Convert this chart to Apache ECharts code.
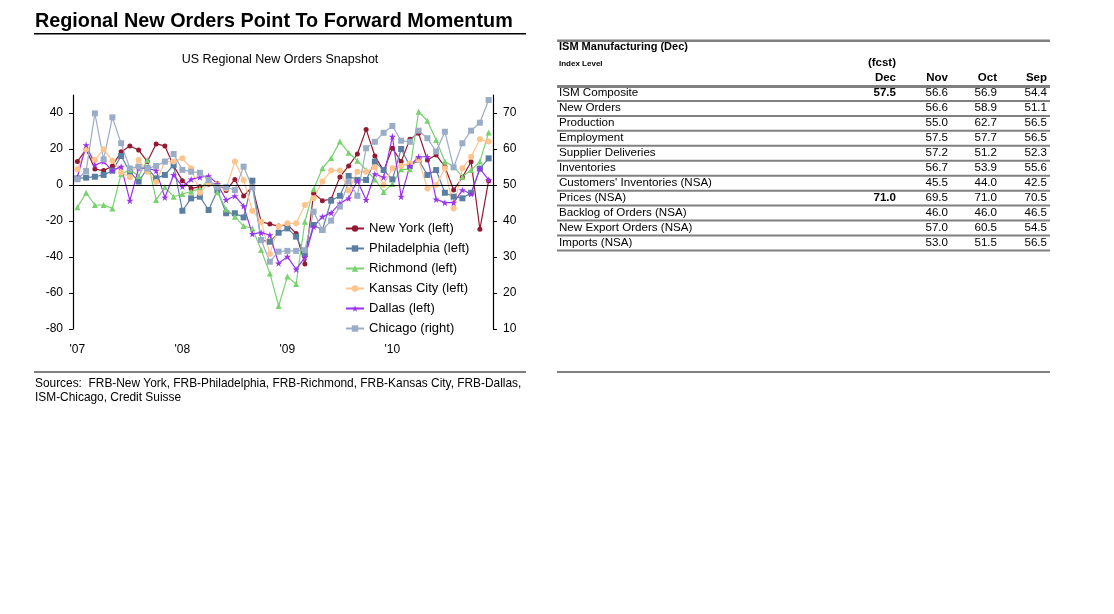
<!DOCTYPE html>
<html><head><meta charset="utf-8">
<script src="https://cdn.jsdelivr.net/npm/echarts@6/dist/echarts.min.js"></script>
<style>html,body{margin:0;padding:0;background:#fff}#c{width:1114px;height:614px}</style>
</head><body><div id="c"></div>
<script>
// ---------- DATA ----------
const categories = [
 "2007-01","2007-02","2007-03","2007-04","2007-05","2007-06","2007-07","2007-08","2007-09","2007-10","2007-11","2007-12",
 "2008-01","2008-02","2008-03","2008-04","2008-05","2008-06","2008-07","2008-08","2008-09","2008-10","2008-11","2008-12",
 "2009-01","2009-02","2009-03","2009-04","2009-05","2009-06","2009-07","2009-08","2009-09","2009-10","2009-11","2009-12",
 "2010-01","2010-02","2010-03","2010-04","2010-05","2010-06","2010-07","2010-08","2010-09","2010-10","2010-11","2010-12"];
const xTickLabels = ["'07","'08","'09","'10"];
const leftTicks = [-80,-60,-40,-20,0,20,40];
const rightTicks = [10,20,30,40,50,60,70];

const newYork = [13.0,19.8,8.9,8.0,10.6,18.5,21.7,19.4,13.0,22.8,21.7,10.6,
 2.4,-1.9,-1.0,0.4,0.9,-3.1,3.1,-6.1,-0.9,-20.4,-21.7,-22.8,
 -22.0,-26.9,-43.9,-4.6,-8.7,-7.9,4.5,10.6,17.2,30.9,16.1,8.0,
 20.4,13.0,25.4,28.7,13.9,16.7,10.2,-2.8,4.3,12.9,-24.6,2.4];
const philadelphia = [3.7,4.1,4.6,5.6,8.0,16.1,7.4,1.9,9.3,3.7,5.6,11.1,
 -14.3,-7.4,-6.5,-13.9,-3.0,-15.7,-15.7,-18.0,2.4,-30.6,-31.5,-26.5,
 -24.1,-28.7,-38.3,-22.2,-25.0,-8.7,-6.0,5.0,2.8,2.8,13.0,8.3,
 3.1,20.0,10.6,13.9,5.6,8.3,-4.3,-6.5,-7.4,-4.3,9.1,14.8];
const richmond = [-12.4,-4.3,-11.1,-11.1,-13.0,6.1,8.5,5.0,13.9,-8.3,-1.3,-6.5,
 -5.0,-3.7,-2.0,3.0,-4.0,-13.5,-17.6,-22.8,-24.1,-36.1,-49.1,-67.2,
 -50.9,-55.0,-20.4,-2.4,9.3,15.0,24.1,17.9,13.5,8.3,3.1,-3.9,
 0.6,8.7,8.7,40.7,35.7,25.0,13.0,10.2,4.6,8.3,13.0,29.1];
const kansasCity = [8.7,19.8,13.9,19.8,13.5,7.0,4.3,13.9,7.4,1.7,13.0,13.0,
 14.8,9.3,-4.3,1.0,0.4,-1.9,13.0,2.8,-14.3,-20.4,-38.3,-23.1,
 -21.3,-21.3,-11.1,-7.4,1.9,8.0,8.0,-3.1,7.4,7.4,9.8,0.0,
 9.3,10.6,12.0,13.9,-1.9,0.0,9.3,-13.0,9.3,15.7,25.4,24.1];
const dallas = [4.3,22.2,11.1,13.0,8.0,10.2,-8.7,9.3,9.3,8.0,-6.9,5.6,
 -0.9,3.1,4.3,5.0,0.6,-8.3,-6.1,-11.7,-27.2,-26.5,-27.8,-43.5,
 -39.8,-46.9,-40.2,-23.1,-17.6,-15.5,-10.2,-7.4,2.4,-8.3,6.1,4.3,
 26.9,-6.5,10.6,15.7,15.7,-8.0,-9.8,-9.8,-2.8,-5.0,9.1,2.8];
const chicago = [51.6,53.9,69.9,57.1,68.8,61.6,54.6,55.1,54.6,55.3,56.5,58.6,
 54.2,53.7,53.4,51.4,49.5,49.4,48.6,55.1,49.4,34.7,28.7,31.5,
 31.7,31.7,31.9,42.6,37.5,40.1,44.0,51.0,47.0,60.2,62.0,64.5,
 66.4,62.3,62.0,65.1,63.0,59.3,64.8,54.9,61.6,65.1,67.3,73.6];

// table
const tableRows = ["ISM Composite","New Orders","Production","Employment","Supplier Deliveries","Inventories",
 "Customers' Inventories (NSA)","Prices (NSA)","Backlog of Orders (NSA)","New Export Orders (NSA)","Imports (NSA)"];
const tableCols = ["Dec","Nov","Oct","Sep"];
const decFcst = [57.5,null,null,null,null,null,null,71.0,null,null,null];
const novVals = [56.6,56.6,55.0,57.5,57.2,56.7,45.5,69.5,46.0,57.0,53.0];
const octVals = [56.9,58.9,62.7,57.7,51.2,53.9,44.0,71.0,46.0,60.5,51.5];
const sepVals = [54.4,51.1,56.5,56.5,52.3,55.6,42.5,70.5,46.5,54.5,56.5];

// ---------- STYLE ----------
const FONT = "'Liberation Sans', Arial, sans-serif";
const starPath = 'path://M5,0 L6.2,3.8 L10,3.8 L7,6.2 L8.1,10 L5,7.6 L1.9,10 L3,6.2 L0,3.8 L3.8,3.8 Z';

function ser(name, data, color, symbol, size, yIdx, extra) {
  return Object.assign({
    name, type: 'line', data, yAxisIndex: yIdx,
    symbol, symbolSize: size, showSymbol: true, showAllSymbol: true,
    lineStyle: { color, width: 1.2 },
    itemStyle: { color, borderWidth: 0 },
    animation: false
  }, extra || {});
}

const chart = echarts.init(document.getElementById('c'), null, { renderer: 'canvas' });

const g = [];
// left panel
g.push({ type: 'text', style: { text: 'Regional New Orders Point To Forward Momentum', font: 'bold 19.8px ' + FONT, fill: '#000', x: 35, y: 22, textVerticalAlign: 'middle' } });
g.push({ type: 'rect', shape: { x: 34, y: 33, width: 492, height: 1.5 }, style: { fill: '#000' } });
g.push({ type: 'text', style: { text: 'US Regional New Orders Snapshot', font: '12.5px ' + FONT, fill: '#000', x: 280, y: 60, textAlign: 'center', textVerticalAlign: 'middle' } });
g.push({ type: 'rect', shape: { x: 34, y: 371.5, width: 492, height: 1 }, style: { fill: '#000' } });
g.push({ type: 'text', style: { text: 'Sources:  FRB-New York, FRB-Philadelphia, FRB-Richmond, FRB-Kansas City, FRB-Dallas,\nISM-Chicago, Credit Suisse', font: '11.9px ' + FONT, fill: '#000', x: 35, y: 377, lineHeight: 14 } });

// right panel table
const TX = 557, TW = 493;
g.push({ type: 'rect', shape: { x: TX, y: 39.5, width: TW, height: 2.5 }, style: { fill: '#7f7f7f' } });
g.push({ type: 'text', style: { text: 'ISM Manufacturing (Dec)', font: 'bold 11px ' + FONT, fill: '#000', x: 559, y: 47, textVerticalAlign: 'middle' } });
g.push({ type: 'text', style: { text: 'Index Level', font: 'bold 8px ' + FONT, fill: '#000', x: 559, y: 64, textVerticalAlign: 'middle' } });
const colRight = [896, 948, 997, 1047];
g.push({ type: 'text', style: { text: '(fcst)', font: 'bold 11.5px ' + FONT, fill: '#000', x: colRight[0], y: 63, textAlign: 'right', textVerticalAlign: 'middle' } });
tableCols.forEach((c, i) => g.push({ type: 'text', style: { text: c, font: 'bold 11.5px ' + FONT, fill: '#000', x: colRight[i], y: 77.5, textAlign: 'right', textVerticalAlign: 'middle' } }));
const pitch = 14.95, line0 = 85;
for (let i = 0; i <= tableRows.length; i++) {
  g.push({ type: 'rect', shape: { x: TX, y: line0 + i * pitch, width: TW, height: i === 0 ? 3 : 2 }, style: { fill: '#808080' } });
}
tableRows.forEach((r, i) => {
  const cy = line0 + 8 + i * pitch;
  g.push({ type: 'text', style: { text: r, font: '11.6px ' + FONT, fill: '#000', x: 559, y: cy, textVerticalAlign: 'middle' } });
  const vals = [decFcst[i], novVals[i], octVals[i], sepVals[i]];
  vals.forEach((v, j) => {
    if (v == null) return;
    g.push({ type: 'text', style: { text: v.toFixed(1), font: (j === 0 ? 'bold ' : '') + '11.6px ' + FONT, fill: '#000', x: colRight[j], y: cy, textAlign: 'right', textVerticalAlign: 'middle' } });
  });
});
g.push({ type: 'rect', shape: { x: TX, y: 371.5, width: TW, height: 1 }, style: { fill: '#000' } });

const option = {
  animation: false,
  backgroundColor: '#fff',
  textStyle: { fontFamily: FONT },
  grid: { left: 73, right: 621, top: 95, bottom: 285, containLabel: false },
  legend: {
    orient: 'vertical', left: 340, top: 216, itemWidth: 18, itemHeight: 8, itemGap: 5,
    textStyle: { fontSize: 13, color: '#000', fontFamily: FONT, lineHeight: 15 },
    data: ['New York (left)','Philadelphia (left)','Richmond (left)','Kansas City (left)','Dallas (left)','Chicago (right)']
  },
  xAxis: {
    type: 'category', data: categories, boundaryGap: true,
    axisLine: { show: false }, axisTick: { show: false },
    axisLabel: {
      interval: (idx) => idx % 12 === 0,
      formatter: (val, idx) => xTickLabels[Math.floor(idx / 12)],
      fontSize: 12, color: '#000', margin: 15, fontFamily: FONT
    },
    splitLine: { show: false }
  },
  yAxis: [
    { type: 'value', min: -80, max: 50, position: 'left',
      axisLine: { show: true, lineStyle: { color: '#000', width: 1.2 } },
      axisTick: { show: true, length: 4, lineStyle: { color: '#000' }, customValues: leftTicks },
      axisLabel: { customValues: leftTicks, fontSize: 12, color: '#000', margin: 10, fontFamily: FONT },
      splitLine: { show: false } },
    { type: 'value', min: 10, max: 75, position: 'right',
      axisLine: { show: true, lineStyle: { color: '#000', width: 1.2 } },
      axisTick: { show: true, length: 4, lineStyle: { color: '#000' }, customValues: rightTicks },
      axisLabel: { customValues: rightTicks, fontSize: 12, color: '#000', margin: 10, fontFamily: FONT },
      splitLine: { show: false } }
  ],
  series: [
    ser('New York (left)', newYork, '#931a30', 'circle', 5, 0, {
      markLine: { silent: true, symbol: ['none','none'], label: { show: false },
        lineStyle: { color: '#000', width: 1.2, type: 'solid' }, data: [{ yAxis: 0 }], animation: false }
    }),
    ser('Philadelphia (left)', philadelphia, '#5b7fa3', 'rect', 6, 0),
    ser('Richmond (left)', richmond, '#78d26e', 'triangle', 6, 0),
    ser('Kansas City (left)', kansasCity, '#ffc38c', 'circle', 6, 0),
    ser('Dallas (left)', dallas, '#9b32f0', starPath, 7, 0),
    ser('Chicago (right)', chicago, '#9badc6', 'rect', 6, 1)
  ],
  graphic: g
};
chart.setOption(option);
</script>
</body></html>
